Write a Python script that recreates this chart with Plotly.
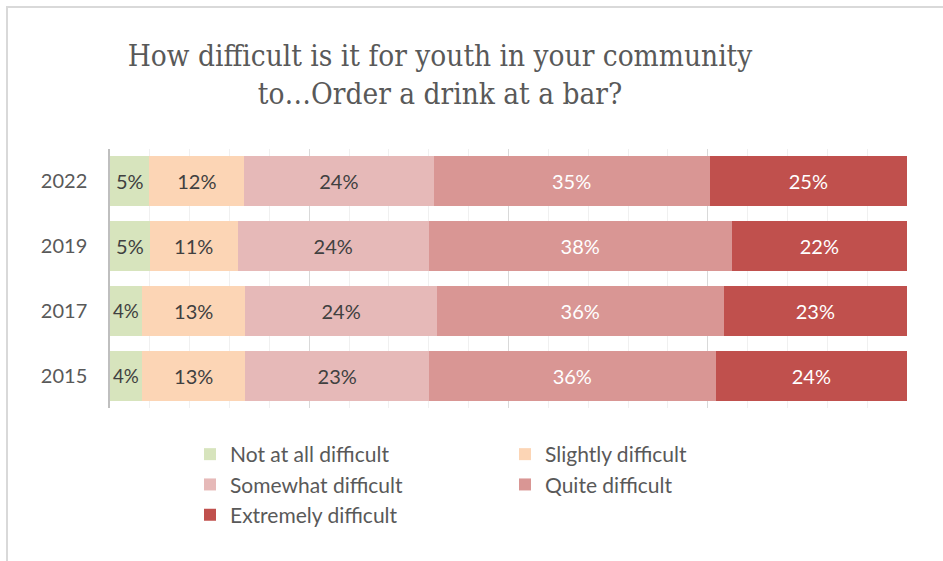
import plotly.graph_objects as go

# Survey years (top to bottom) and response shares in percent
years = ["2022", "2019", "2017", "2015"]
categories = ["Not at all difficult", "Slightly difficult", "Somewhat difficult",
              "Quite difficult", "Extremely difficult"]
not_at_all = [5, 5, 4, 4]
slightly = [12, 11, 13, 13]
somewhat = [24, 24, 24, 23]
quite = [35, 38, 36, 36]
extremely = [25, 22, 23, 24]

series = [not_at_all, slightly, somewhat, quite, extremely]
colors = ["#D7E4BD", "#FCD5B5", "#E6B9B8", "#D99694", "#C0504D"]
text_colors = ["#404040", "#404040", "#404040", "#FFFFFF", "#FFFFFF"]

W, H = 943, 561
L, R, T, B = 110, 36, 149, 153

fig = go.Figure()
for name, vals, col, tcol in zip(categories, series, colors, text_colors):
    fig.add_trace(go.Bar(
        y=years, x=vals, name=name, orientation="h",
        marker=dict(color=col, line=dict(width=0)),
        text=[f"{v}%" for v in vals], textposition="inside",
        insidetextanchor="middle", textangle=0,
        textfont=dict(family="Lato", size=20, color=tcol),
        hoverinfo="skip",
    ))

pw, ph = W - L - R, H - T - B

fig.update_layout(
    width=W, height=H,
    margin=dict(l=L, r=R, t=T, b=B, autoexpand=False),
    paper_bgcolor="white", plot_bgcolor="white",
    barmode="stack", barnorm="percent", bargap=0.227,
    uniformtext=dict(mode=False),
    title=dict(
        text="How difficult is it for youth in your community<br>to…Order a drink at a bar?",
        font=dict(family="DejaVu Serif Condensed, Liberation Serif", size=29.5, color="#595959"),
        x=440 / W, xref="container", xanchor="center",
        y=1 - 66 / H, yref="container", yanchor="top",
    ),
    xaxis=dict(
        range=[0, 100], dtick=25, showticklabels=False, ticks="",
        showgrid=True, gridcolor="#D9D9D9", gridwidth=1.3,
        minor=dict(dtick=5, showgrid=True, gridcolor="#F0F0F0", gridwidth=1.3),
        zeroline=False, fixedrange=True,
    ),
    yaxis=dict(
        type="category", categoryorder="array", categoryarray=years[::-1],
        showline=True, linecolor="#BFBFBF", linewidth=1.5,
        tickfont=dict(family="Lato", size=20, color="#595959"),
        ticks="", ticklabelstandoff=17, showgrid=False, fixedrange=True,
    ),
    legend=dict(
        orientation="h", x=(190 - L) / pw, xanchor="left",
        y=-(434 - (H - B)) / ph, yanchor="top",
        font=dict(family="Lato", size=21, color="#595959"),
        entrywidth=270, traceorder="normal", itemclick=False,
        itemdoubleclick=False, tracegroupgap=0,
    ),
    shapes=[
        dict(type="rect", xref="paper", yref="paper",
             x0=(7 - L) / pw, x1=(W + 20 - L) / pw,
             y0=-(H + 20 - (H - B)) / ph, y1=((H - B) - 7) / ph,
             line=dict(color="#D9D9D9", width=2), fillcolor="rgba(0,0,0,0)",
             layer="below"),
    ],
)

fig.write_html("out.html")
